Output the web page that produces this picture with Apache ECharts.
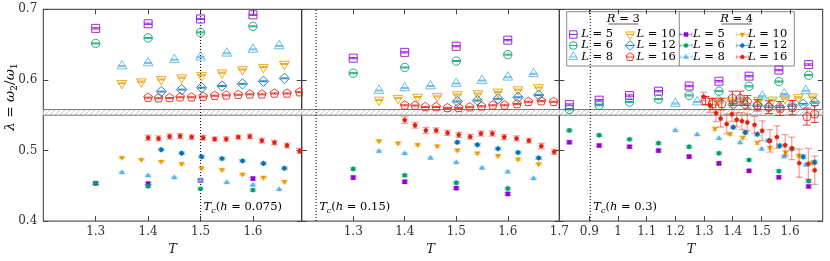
<!DOCTYPE html>
<html><head><meta charset="utf-8">
<script src="https://cdn.jsdelivr.net/npm/echarts@6.0.0/dist/echarts.min.js"></script>
<style>html,body{margin:0;padding:0;background:#fff;}#chart{width:830px;height:261px;}</style>
</head><body><div id="chart"></div>
<script>
// ---------------- axes / annotations ----------------
const panelXRange = [[1.2, 1.693], [1.2, 1.7], [0.795, 1.714]];
const panelXTicks = [[1.3, 1.4, 1.5, 1.6], [1.3, 1.4, 1.5, 1.6, 1.7], [0.9, 1.0, 1.1, 1.2, 1.3, 1.4, 1.5, 1.6]];
const yRange = [0.4, 0.7];
const tcValues = [1.5, 1.228, 0.903];
const tcLabels = ['0.075', '0.15', '0.3'];
const bandLo = 0.550, bandHi = 0.558;
const Lvalues = [5, 6, 8, 10, 12, 16];
const colors = ['#9400d3', '#009e73', '#56b4e9', '#e69f00', '#0072b2', '#e51e10'];
const shapes = ['square', 'circle', 'triUp', 'triDown', 'diamond', 'pentagon'];

// ---------------- data: [T, lambda, error] ----------------
// Panel 1 (h = 0.075)
const p1_R3_L5 = [[1.30,0.673,0.0009],[1.40,0.6795,0.0009],[1.50,0.6863,0.0009],[1.60,0.6922,0.0009]];
const p1_R3_L6 = [[1.30,0.6517,0.0007],[1.40,0.6595,0.0007],[1.50,0.6672,0.0007],[1.60,0.6759,0.0007]];
const p1_R3_L8 = [[1.35,0.6195,0.0007],[1.40,0.624,0.0007],[1.45,0.6285,0.0007],[1.50,0.6322,0.0007],[1.55,0.6377,0.0007],[1.60,0.6431,0.0007],[1.65,0.6481,0.0007]];
const p1_R3_L10 = [[1.35,0.5952,0.0008],[1.387,0.5975,0.0008],[1.425,0.6007,0.0008],[1.464,0.6032,0.0008],[1.502,0.6066,0.0008],[1.541,0.6102,0.0008],[1.58,0.6148,0.0008],[1.62,0.618,0.0008],[1.66,0.6225,0.0008]];
const p1_R3_L12 = [[1.425,0.5835,0.0006],[1.464,0.5863,0.0006],[1.502,0.589,0.0006],[1.541,0.5913,0.0006],[1.58,0.5944,0.0006],[1.62,0.5981,0.0006],[1.66,0.6022,0.0006]];
const p1_R3_L16 = [[1.40,0.5749,0.0007],[1.42,0.574,0.0007],[1.441,0.5745,0.0007],[1.461,0.5754,0.0007],[1.483,0.5754,0.0007],[1.505,0.5763,0.0007],[1.527,0.5776,0.0007],[1.549,0.5781,0.0007],[1.572,0.579,0.0007],[1.594,0.5795,0.0007],[1.617,0.5795,0.0007],[1.641,0.5808,0.0007],[1.665,0.5808,0.0007],[1.689,0.5826,0.0007]];
const p1_R4_L5 = [[1.30,0.4535,0.0018],[1.40,0.453,0.0018],[1.50,0.4576,0.0018],[1.60,0.4603,0.0018]];
const p1_R4_L6 = [[1.30,0.4535,0.0016],[1.40,0.4494,0.0016],[1.50,0.4457,0.0016],[1.60,0.4439,0.0016]];
const p1_R4_L8 = [[1.35,0.4689,0.0012],[1.40,0.4644,0.0012],[1.45,0.4617,0.0012],[1.50,0.4576,0.0012],[1.55,0.4548,0.0012],[1.60,0.4512,0.0012],[1.65,0.4448,0.0012]];
const p1_R4_L10 = [[1.35,0.4899,0.0012],[1.387,0.4871,0.0012],[1.425,0.4844,0.0012],[1.464,0.4812,0.0015],[1.502,0.4749,0.0015],[1.541,0.4726,0.0015],[1.58,0.4662,0.0015],[1.62,0.4617,0.0015],[1.66,0.4557,0.0015]];
const p1_R4_L12 = [[1.425,0.5012,0.0018],[1.464,0.4962,0.0018],[1.502,0.4912,0.0018],[1.541,0.4885,0.0018],[1.58,0.4853,0.0018],[1.62,0.4817,0.0018],[1.66,0.4749,0.0018]];
const p1_R4_L16 = [[1.40,0.5181,0.0038],[1.42,0.5171,0.0036],[1.441,0.5199,0.0036],[1.461,0.5204,0.0036],[1.483,0.519,0.0032],[1.505,0.5181,0.0032],[1.527,0.5162,0.0028],[1.549,0.5162,0.0032],[1.572,0.519,0.0028],[1.594,0.5199,0.0032],[1.617,0.514,0.0034],[1.641,0.5112,0.0032],[1.665,0.5071,0.0034],[1.689,0.4994,0.0034]];
// Panel 2 (h = 0.15)
const p2_R3_L5 = [[1.30,0.6308,0.0009],[1.40,0.639,0.0009],[1.50,0.6477,0.0009],[1.60,0.6563,0.0009]];
const p2_R3_L6 = [[1.30,0.6095,0.0007],[1.40,0.6176,0.0007],[1.50,0.6267,0.0007],[1.60,0.6358,0.0007]];
const p2_R3_L8 = [[1.35,0.5849,0.0007],[1.40,0.5886,0.0007],[1.45,0.5913,0.0007],[1.50,0.5949,0.0007],[1.55,0.599,0.0007],[1.60,0.6037,0.0007],[1.65,0.6086,0.0007]];
const p2_R3_L10 = [[1.35,0.5716,0.0008],[1.387,0.5741,0.0008],[1.425,0.5757,0.0008],[1.463,0.5766,0.0008],[1.502,0.5793,0.0008],[1.542,0.5807,0.0008],[1.581,0.583,0.0008],[1.62,0.5862,0.0008],[1.66,0.5893,0.0008]];
const p2_R3_L12 = [[1.502,0.5694,0.0007],[1.541,0.5708,0.0007],[1.581,0.5733,0.0007],[1.62,0.5753,0.0007],[1.66,0.5785,0.0007]];
const p2_R3_L16 = [[1.40,0.564,0.0008],[1.42,0.5636,0.0008],[1.44,0.5617,0.0008],[1.461,0.5617,0.0008],[1.483,0.5603,0.0008],[1.505,0.5603,0.0008],[1.526,0.5613,0.0008],[1.549,0.5626,0.0008],[1.571,0.564,0.0008],[1.594,0.564,0.0008],[1.618,0.5658,0.0008],[1.64,0.569,0.0008],[1.665,0.5699,0.0008],[1.689,0.569,0.0008]];
const p2_R4_L5 = [[1.30,0.4617,0.0018],[1.40,0.4557,0.0018],[1.50,0.4467,0.0018],[1.60,0.4385,0.0018]];
const p2_R4_L6 = [[1.30,0.4739,0.0016],[1.40,0.4648,0.0016],[1.50,0.4544,0.0016],[1.60,0.4462,0.0016]];
const p2_R4_L8 = [[1.35,0.4989,0.0012],[1.40,0.4958,0.0012],[1.45,0.4894,0.0012],[1.50,0.483,0.0012],[1.55,0.4753,0.0012],[1.60,0.4698,0.0012],[1.65,0.4603,0.0012]];
const p2_R4_L10 = [[1.35,0.5135,0.0014],[1.387,0.5103,0.0014],[1.425,0.5081,0.0014],[1.463,0.5062,0.0014],[1.502,0.5003,0.0016],[1.541,0.4962,0.0016],[1.581,0.4926,0.0016],[1.62,0.4876,0.0016],[1.66,0.4808,0.0016]];
const p2_R4_L12 = [[1.502,0.5117,0.0018],[1.541,0.5081,0.0018],[1.581,0.5026,0.0018],[1.62,0.4971,0.0018],[1.66,0.4894,0.0018]];
const p2_R4_L16 = [[1.40,0.5431,0.0045],[1.42,0.5358,0.004],[1.441,0.5285,0.0042],[1.461,0.5285,0.0036],[1.483,0.5249,0.0036],[1.505,0.5221,0.0036],[1.527,0.5194,0.0034],[1.548,0.524,0.0036],[1.57,0.524,0.0036],[1.593,0.519,0.0036],[1.617,0.5171,0.0036],[1.641,0.514,0.0034],[1.665,0.5062,0.0038],[1.69,0.498,0.0036]];
// Panel 3 (h = 0.3)
const p3_R3_L5 = [[0.83,0.565,0.001],[0.934,0.5713,0.001],[1.04,0.5778,0.001],[1.141,0.584,0.001],[1.248,0.5913,0.001],[1.352,0.5981,0.001],[1.457,0.6053,0.001],[1.561,0.614,0.001],[1.665,0.6217,0.001]];
const p3_R3_L6 = [[0.83,0.5583,0.0008],[0.934,0.564,0.0008],[1.04,0.5686,0.0008],[1.141,0.5728,0.0008],[1.248,0.578,0.0008],[1.352,0.584,0.0008],[1.457,0.5909,0.0008],[1.561,0.5977,0.0008],[1.665,0.6067,0.0008]];
const p3_R3_L8 = [[1.2,0.5665,0.0008],[1.276,0.5686,0.0008],[1.352,0.5712,0.0008],[1.427,0.5732,0.0008],[1.503,0.5768,0.0008],[1.58,0.58,0.0008],[1.655,0.5846,0.0008]];
const p3_R3_L10 = [[1.35,0.5702,0.001],[1.395,0.5706,0.001],[1.44,0.571,0.001],[1.49,0.5714,0.001],[1.538,0.5716,0.001],[1.583,0.5736,0.001],[1.629,0.5751,0.001],[1.679,0.576,0.001]];
const p3_R3_L12 = [[1.402,0.5655,0.001],[1.444,0.5649,0.001],[1.486,0.5635,0.001],[1.526,0.5622,0.001],[1.564,0.562,0.001],[1.607,0.5636,0.001],[1.646,0.5655,0.001],[1.686,0.568,0.001]];
const p3_R3_L16 = [[1.305,0.5704,0.006],[1.329,0.5658,0.008],[1.362,0.566,0.008],[1.399,0.574,0.01],[1.426,0.574,0.01],[1.451,0.569,0.009],[1.487,0.564,0.008],[1.526,0.5613,0.009],[1.565,0.5595,0.01],[1.608,0.5608,0.01],[1.659,0.548,0.012],[1.686,0.5517,0.012]];
const p3_R4_L5 = [[0.83,0.5117,0.0018],[0.934,0.5071,0.0018],[1.04,0.5053,0.0018],[1.141,0.4999,0.0018],[1.248,0.4913,0.0018],[1.352,0.4817,0.0018],[1.457,0.4712,0.0018],[1.561,0.4621,0.002],[1.665,0.449,0.002]];
const p3_R4_L6 = [[0.83,0.5285,0.0016],[0.934,0.5217,0.0016],[1.04,0.5158,0.0016],[1.141,0.5104,0.0016],[1.248,0.5053,0.0016],[1.352,0.4962,0.0016],[1.457,0.4866,0.0016],[1.561,0.4708,0.0018],[1.665,0.4566,0.0018]];
const p3_R4_L8 = [[1.2,0.5285,0.0014],[1.276,0.5226,0.0014],[1.352,0.5172,0.0014],[1.426,0.5112,0.0014],[1.501,0.5022,0.0016],[1.58,0.4913,0.0016],[1.655,0.4798,0.0016]];
const p3_R4_L10 = [[1.338,0.5308,0.0022],[1.391,0.5235,0.0022],[1.435,0.5183,0.0022],[1.486,0.511,0.0022],[1.53,0.5038,0.0022],[1.585,0.4971,0.0022],[1.63,0.4926,0.0022],[1.678,0.4828,0.0022]];
const p3_R4_L12 = [[1.402,0.533,0.0022],[1.444,0.5254,0.0022],[1.486,0.5231,0.0022],[1.526,0.5139,0.0022],[1.564,0.5067,0.0022],[1.607,0.5025,0.0024],[1.646,0.491,0.0024],[1.686,0.4833,0.0026]];
const p3_R4_L16 = [[1.298,0.5763,0.006],[1.321,0.564,0.01],[1.342,0.553,0.012],[1.358,0.5453,0.012],[1.379,0.5376,0.014],[1.397,0.5513,0.01],[1.414,0.5435,0.01],[1.432,0.5417,0.012],[1.451,0.5398,0.012],[1.476,0.5363,0.012],[1.503,0.528,0.014],[1.53,0.5137,0.016],[1.554,0.519,0.016],[1.583,0.5075,0.015],[1.606,0.503,0.016],[1.632,0.4821,0.02],[1.664,0.481,0.022],[1.686,0.472,0.02]];

const panelR3 = [
  [p1_R3_L5, p1_R3_L6, p1_R3_L8, p1_R3_L10, p1_R3_L12, p1_R3_L16],
  [p2_R3_L5, p2_R3_L6, p2_R3_L8, p2_R3_L10, p2_R3_L12, p2_R3_L16],
  [p3_R3_L5, p3_R3_L6, p3_R3_L8, p3_R3_L10, p3_R3_L12, p3_R3_L16]
];
const panelR4 = [
  [p1_R4_L5, p1_R4_L6, p1_R4_L8, p1_R4_L10, p1_R4_L12, p1_R4_L16],
  [p2_R4_L5, p2_R4_L6, p2_R4_L8, p2_R4_L10, p2_R4_L12, p2_R4_L16],
  [p3_R4_L5, p3_R4_L6, p3_R4_L8, p3_R4_L10, p3_R4_L12, p3_R4_L16]
];

// ---------------- styling helpers ----------------
const FONT = '"DejaVu Serif", "Liberation Serif", serif';
const grids = [
  {left: 43.3, top: 9.3, width: 258.4, height: 220},
  {left: 301.7, top: 9.3, width: 257.6, height: 220},
  {left: 559.3, top: 9.3, width: 263.4, height: 220}
];

function markerEl(shape, cx, cy, r, hollow, color, op) {
  const style = hollow ? {fill: 'none', stroke: color, lineWidth: 1, opacity: op}
                       : {fill: color, stroke: color, lineWidth: 0.4};
  const poly = (n, rot, rr) => {
    const pts = [];
    for (let k = 0; k < n; k++) { const a = rot + k * 2 * Math.PI / n; pts.push([cx + rr * Math.cos(a), cy + rr * Math.sin(a)]); }
    return pts;
  };
  switch (shape) {
    case 'square': return {type: 'rect', shape: {x: cx - r, y: cy - r, width: 2 * r, height: 2 * r}, style};
    case 'circle': return {type: 'circle', shape: {cx, cy, r: r * 1.05}, style};
    case 'triUp': return {type: 'polygon', shape: {points: poly(3, -Math.PI / 2, r * 1.4)}, style};
    case 'triDown': return {type: 'polygon', shape: {points: poly(3, Math.PI / 2, r * 1.4)}, style};
    case 'diamond': return {type: 'polygon', shape: {points: poly(4, -Math.PI / 2, r * 1.3)}, style};
    default: return {type: 'polygon', shape: {points: poly(5, -Math.PI / 2, r * 1.15)}, style};
  }
}

function errRender(shape, hollow, color) {
  const r = hollow ? 4.0 : 2.1;
  const capW = hollow ? 8 : 7;
  const eOp = hollow ? 0.85 : 0.4;
  const eW = hollow ? 1 : 1.3;
  return function (params, api) {
    const x = api.value(0), y = api.value(1), e = api.value(2);
    const c = api.coord([x, y]);
    const yt = api.coord([x, y + e])[1], yb = api.coord([x, y - e])[1];
    const es = {stroke: color, lineWidth: eW, opacity: eOp};
    return {type: 'group', children: [
      {type: 'line', shape: {x1: c[0], y1: yt, x2: c[0], y2: yb}, style: es},
      {type: 'line', shape: {x1: c[0] - capW / 2, y1: yt, x2: c[0] + capW / 2, y2: yt}, style: es},
      {type: 'line', shape: {x1: c[0] - capW / 2, y1: yb, x2: c[0] + capW / 2, y2: yb}, style: es},
      markerEl(shape, c[0], c[1], r, hollow, color, 0.85)
    ]};
  };
}

// hatch pattern for band
const hatch = document.createElement('canvas');
hatch.width = 5; hatch.height = 5;
(function () {
  const g = hatch.getContext('2d');
  g.fillStyle = '#ffffff'; g.fillRect(0, 0, 5, 5);
  g.strokeStyle = '#b5b5b5'; g.lineWidth = 0.8;
  g.beginPath(); g.moveTo(0, 5); g.lineTo(5, 0); g.moveTo(-1, 1); g.lineTo(1, -1); g.moveTo(4, 6); g.lineTo(6, 4); g.stroke();
})();

function bandRender(params, api) {
  const cs = params.coordSys;
  const yh = api.coord([api.value(0), api.value(2)])[1];
  const yl = api.coord([api.value(0), api.value(1)])[1];
  return {type: 'group', children: [
    {type: 'rect', shape: {x: cs.x, y: yh, width: cs.width, height: yl - yh}, style: {fill: {image: hatch, repeat: 'repeat'}}},
    {type: 'line', shape: {x1: cs.x, y1: yh, x2: cs.x + cs.width, y2: yh}, style: {stroke: '#777', lineWidth: 1}},
    {type: 'line', shape: {x1: cs.x, y1: yl, x2: cs.x + cs.width, y2: yl}, style: {stroke: '#777', lineWidth: 1}}
  ]};
}

const richBase = {
  i: {fontFamily: FONT, fontStyle: 'italic', fontSize: 11.5, lineHeight: 15, verticalAlign: 'middle', color: '#222'},
  n: {fontFamily: FONT, fontSize: 11.5, lineHeight: 15, verticalAlign: 'middle', color: '#222'},
  s: {fontFamily: FONT, fontStyle: 'italic', fontSize: 8, lineHeight: 8, verticalAlign: 'bottom', color: '#222'}
};

function tcRender(label) {
  return function (params, api) {
    const x = api.value(0);
    const b = api.coord([x, api.value(1)]);
    const t = api.coord([x, api.value(2)]);
    return {type: 'group', children: [
      {type: 'line', shape: {x1: b[0], y1: b[1], x2: t[0], y2: t[1]}, style: {stroke: '#111', lineWidth: 1.1, lineDash: [1.2, 1.8]}},
      {type: 'text', x: b[0] + 3, y: b[1] - 14, style: {
        text: '{i|T}{s|c}{n|(}{i|h}{n| = ' + label + ')}', rich: richBase, align: 'left', verticalAlign: 'middle'}}
    ]};
  };
}

// ---------------- axes ----------------
const xAxes = [], yAxes = [];
for (let i = 0; i < 3; i++) {
  ['bottom', 'top'].forEach(pos => {
    const bottom = pos === 'bottom';
    xAxes.push({
      type: 'value', gridIndex: i, position: pos, min: panelXRange[i][0], max: panelXRange[i][1],
      axisLine: {show: false}, splitLine: {show: false},
      axisTick: {show: true, inside: true, length: 5, customValues: panelXTicks[i], lineStyle: {color: '#444', width: 1}},
      axisLabel: {show: bottom, customValues: panelXTicks[i], formatter: v => String(+(+v).toFixed(1)),
                  fontFamily: FONT, fontSize: 12, color: '#333', margin: 5},
      name: bottom ? 'T' : '', nameLocation: 'middle', nameGap: 16,
      nameTextStyle: {fontFamily: FONT, fontStyle: 'italic', fontSize: 13, color: '#222'}
    });
  });
}
for (let i = 0; i < 3; i++) {
  ['left', 'right'].forEach(pos => {
    yAxes.push({
      type: 'value', gridIndex: i, position: pos, min: yRange[0], max: yRange[1], interval: 0.1,
      axisLine: {show: false}, splitLine: {show: false},
      axisTick: {show: true, inside: true, length: 5, lineStyle: {color: '#444', width: 1}},
      axisLabel: {show: i === 0 && pos === 'left', formatter: v => (+v).toFixed(1),
                  fontFamily: FONT, fontSize: 12, color: '#333', margin: 6}
    });
  });
}

// ---------------- series ----------------
const series = [];
for (let i = 0; i < 3; i++) {
  const xi = i * 2, yi = i * 2;
  series.push({type: 'custom', xAxisIndex: xi, yAxisIndex: yi, z: 1, silent: true, clip: true,
    data: [[panelXRange[i][0], bandLo, bandHi]], encode: {x: 0, y: 1}, renderItem: bandRender});
  series.push({type: 'custom', xAxisIndex: xi, yAxisIndex: yi, z: 2, silent: true, clip: false,
    data: [[tcValues[i], yRange[0], yRange[1]]], encode: {x: 0, y: 1}, renderItem: tcRender(tcLabels[i])});
  for (let k = 0; k < 6; k++) {
    series.push({type: 'custom', name: 'R3 L' + Lvalues[k], xAxisIndex: xi, yAxisIndex: yi, z: 3, clip: true,
      data: panelR3[i][k], encode: {x: 0, y: 1}, renderItem: errRender(shapes[k], true, colors[k])});
  }
  for (let k = 0; k < 6; k++) {
    series.push({type: 'custom', name: 'R4 L' + Lvalues[k], xAxisIndex: xi, yAxisIndex: yi, z: 4, clip: true,
      data: panelR4[i][k], encode: {x: 0, y: 1}, renderItem: errRender(shapes[k], false, colors[k])});
  }
}

// ---------------- legend (graphic) ----------------
const leg = [];
const box = {x: 566.7, y: 11.7, w: 227.6, h: 54.3, div: 679.3};
leg.push({type: 'rect', shape: {x: box.x, y: box.y, width: box.w, height: box.h}, style: {fill: '#fff', stroke: '#888', lineWidth: 1}});
leg.push({type: 'line', shape: {x1: box.div, y1: box.y, x2: box.div, y2: box.y + box.h}, style: {stroke: '#888', lineWidth: 1}});
[[623.3, '3'], [736.7, '4']].forEach(([cx, rv]) => {
  leg.push({type: 'text', x: cx, y: 19.3, style: {text: '{i|R}{n| = ' + rv + '}', rich: richBase, align: 'center', verticalAlign: 'middle'}});
  leg.push({type: 'line', shape: {x1: cx - 15, y1: 24, x2: cx + 15, y2: 24}, style: {stroke: '#333', lineWidth: 0.8}});
});
const rowY = [34.5, 45.5, 57];
const colMarker = [573.3, 630, 686, 742.3];
const colText = [581.2, 636.5, 693, 748];
for (let k = 0; k < 6; k++) {
  const row = k % 3, colInGroup = Math.floor(k / 3);
  [true, false].forEach((hollow, g) => {
    const col = g * 2 + colInGroup;
    const mx = colMarker[col], my = rowY[row];
    if (hollow) {
      leg.push({type: 'line', shape: {x1: mx - 4, y1: my, x2: mx + 4, y2: my}, style: {stroke: colors[k], lineWidth: 1, opacity: 0.85}});
      leg.push(markerEl(shapes[k], mx, my, 3.7, true, colors[k], 0.85));
    } else {
      leg.push({type: 'line', shape: {x1: mx - 6, y1: my, x2: mx + 6, y2: my}, style: {stroke: colors[k], lineWidth: 1.3, opacity: 0.45}});
      leg.push({type: 'line', shape: {x1: mx - 6, y1: my - 2, x2: mx - 6, y2: my + 2}, style: {stroke: colors[k], lineWidth: 1, opacity: 0.45}});
      leg.push({type: 'line', shape: {x1: mx + 6, y1: my - 2, x2: mx + 6, y2: my + 2}, style: {stroke: colors[k], lineWidth: 1, opacity: 0.45}});
      leg.push(markerEl(shapes[k], mx, my, 2.0, false, colors[k], 1));
    }
    leg.push({type: 'text', x: colText[col], y: my, style: {text: '{i|L}{n| = ' + Lvalues[k] + '}', rich: richBase, align: 'left', verticalAlign: 'middle'}});
  });
}

const yTitle = {type: 'text', x: 11, y: 97, rotation: Math.PI / 2, scaleX: 1.05, z: 10,
  style: {text: '{i|λ}{n| = }{i|ω}{s|2}{n|/}{i|ω}{s|1}', align: 'center', verticalAlign: 'middle',
    rich: {
      i: {fontFamily: FONT, fontStyle: 'italic', fontSize: 13, lineHeight: 16, verticalAlign: 'middle', color: '#222'},
      n: {fontFamily: FONT, fontSize: 13, lineHeight: 16, verticalAlign: 'middle', color: '#222'},
      s: {fontFamily: FONT, fontSize: 9, lineHeight: 9, verticalAlign: 'bottom', color: '#222'}
    }}};

const chart = echarts.init(document.getElementById('chart'), null, {renderer: 'canvas'});
chart.setOption({
  animation: false,
  backgroundColor: '#fff',
  grid: grids.map(g => Object.assign({show: true, borderColor: '#333', borderWidth: 1, backgroundColor: 'transparent'}, g)),
  xAxis: xAxes,
  yAxis: yAxes,
  series: series,
  graphic: [{type: 'group', z: 100, children: leg}, yTitle]
});
</script>
</body></html>
